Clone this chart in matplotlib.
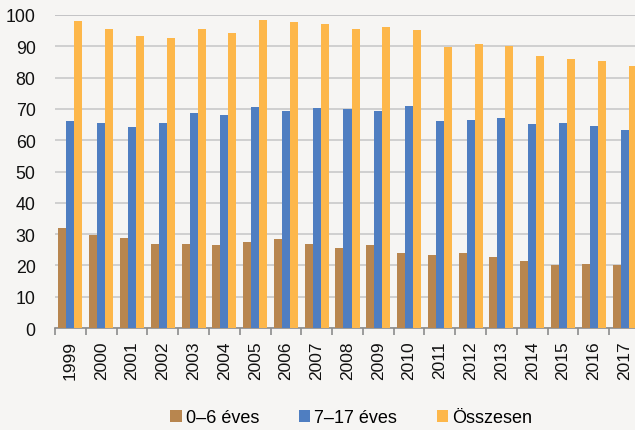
import numpy as np
import matplotlib.pyplot as plt
from matplotlib.ticker import FixedLocator

plt.rcParams['font.family'] = ['Liberation Sans', 'DejaVu Sans']

# -------------------------------
# Data
# -------------------------------
years = [str(y) for y in range(1999, 2018)]
age_0_6 = [32.0, 29.8, 28.9, 26.7, 26.7, 26.4, 27.4, 28.3, 26.9, 25.6,
           26.5, 24.1, 23.3, 23.9, 22.8, 21.3, 20.0, 20.3, 20.2]
age_7_17 = [66.0, 65.5, 64.2, 65.6, 68.8, 68.0, 70.6, 69.4, 70.2, 69.9,
            69.4, 70.9, 66.2, 66.6, 67.0, 65.2, 65.5, 64.6, 63.2]
total = [98.1, 95.5, 93.2, 92.5, 95.5, 94.3, 98.3, 97.8, 97.2, 95.5,
         96.1, 95.1, 89.8, 90.7, 90.1, 86.8, 85.8, 85.2, 83.7]
series_labels = ["0\u20136 éves", "7\u201317 éves", "Összesen"]
colors = ["#B8864F", "#4F7EC1", "#FDB74A"]
bg = "#F6F5F3"

# -------------------------------
# Figure
# -------------------------------
fig = plt.figure(figsize=(6.35, 4.31), dpi=100, facecolor=bg)
ax = fig.add_axes([55 / 635, 1 - 329 / 431, 585 / 635, 313 / 431])
ax.set_facecolor(bg)

x = np.arange(len(years))
w = 0.26
for i, (vals, lab, c) in enumerate(zip([age_0_6, age_7_17, total], series_labels, colors)):
    ax.bar(x + (i - 1) * w, vals, width=w, color=c, label=lab, zorder=3)

ax.set_xlim(-0.5, len(years) - 0.5)
ax.set_ylim(0, 100)
ax.set_yticks(range(0, 101, 10))
ax.grid(axis='y', color='#C9C9C9', linewidth=1.2, zorder=0)
ax.axhline(100, color='#ABB0B8', linewidth=1.4, zorder=1)

for s in ['top', 'right', 'left']:
    ax.spines[s].set_visible(False)
ax.spines['bottom'].set_color('#8C8C8C')
ax.spines['bottom'].set_linewidth(1.2)

ax.set_xticks(x)
ax.set_xticklabels(years, rotation=90, fontsize=12.5)
ax.xaxis.set_minor_locator(FixedLocator(np.arange(-0.5, len(years), 1)))
ax.tick_params(axis='x', which='major', length=0, pad=9, colors='#111111')
ax.tick_params(axis='x', which='minor', length=5, width=1.2, color='#8C8C8C')
ax.tick_params(axis='y', length=0, pad=14, labelsize=12.8, colors='#111111')

handles, labels = ax.get_legend_handles_labels()
fig.legend(handles, labels, loc='center', bbox_to_anchor=(0.553, 0.028), ncol=3,
           frameon=False, fontsize=13, handlelength=0.65, handleheight=0.65,
           handletextpad=0.2, columnspacing=2.2)

fig.savefig("out.png", dpi=100, facecolor=bg)
